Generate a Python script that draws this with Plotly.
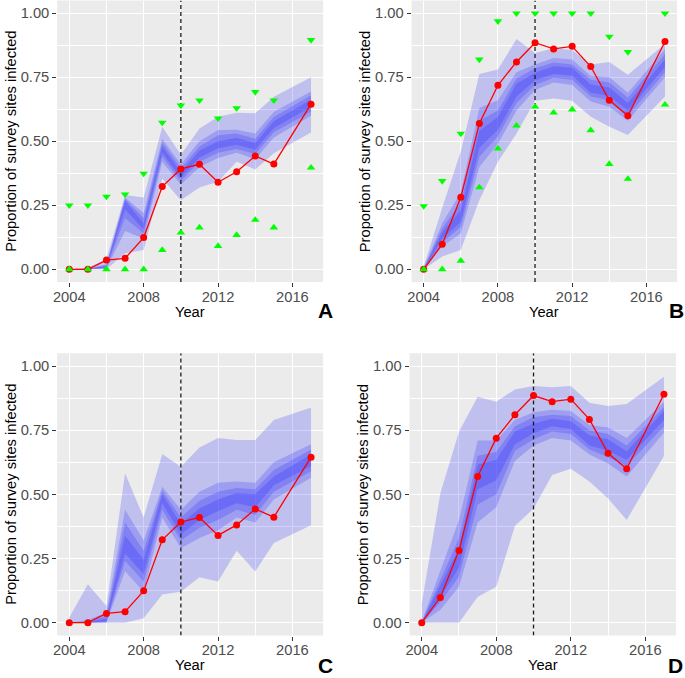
import plotly.graph_objects as go

# ---------------- data ----------------
years = [2004, 2005, 2006, 2007, 2008, 2009, 2010, 2011, 2012, 2013, 2014, 2015, 2017]
x_tick_years = [2004, 2008, 2012, 2016]
x_minor_years = [2006, 2010, 2014]
y_ticks = [0, 0.25, 0.5, 0.75, 1.0]
y_tick_labels = ["0.00", "0.25", "0.50", "0.75", "1.00"]
y_minor = [0.125, 0.375, 0.625, 0.875]
vline_year = 2010

obs_ac = [0, 0, 0.036, 0.043, 0.124, 0.323, 0.392, 0.41, 0.34, 0.381, 0.443, 0.411, 0.645]
obs_bd = [0, 0.098, 0.281, 0.57, 0.719, 0.81, 0.885, 0.861, 0.871, 0.792, 0.66, 0.60, 0.89]

upper_a = [0.25, 0.25, 0.284, 0.293, 0.374, 0.573, 0.64, 0.66, 0.59, 0.63, 0.693, 0.66, 0.896]
lower_a = [0, 0, 0, 0, 0, 0.075, 0.143, 0.163, 0.091, 0.134, 0.193, 0.163, 0.397]
upper_b = [0.247, 0.345, 0.53, 0.82, 0.969, 1, 1, 1, 1, 1, 0.909, 0.849, 1]
lower_b = [0, 0, 0.033, 0.32, 0.471, 0.561, 0.635, 0.612, 0.624, 0.543, 0.411, 0.353, 0.643]

# panel A bands (outer -> inner)
a1_lo = [0, 0, 0, 0.063, 0.075, 0.355, 0.27, 0.32, 0.342, 0.42, 0.39, 0.453, 0.534]
a1_hi = [0, 0.006, 0.04, 0.29, 0.28, 0.557, 0.447, 0.55, 0.596, 0.612, 0.61, 0.674, 0.75]
a2_lo = [0, 0, 0.002, 0.15, 0.12, 0.42, 0.33, 0.40, 0.435, 0.455, 0.43, 0.515, 0.60]
a2_hi = [0, 0.003, 0.02, 0.28, 0.22, 0.51, 0.41, 0.50, 0.544, 0.545, 0.53, 0.615, 0.695]
a3_lo = [0, 0, 0.005, 0.20, 0.14, 0.44, 0.345, 0.42, 0.455, 0.47, 0.45, 0.535, 0.615]
a3_hi = [0, 0.002, 0.016, 0.275, 0.20, 0.495, 0.395, 0.48, 0.524, 0.53, 0.51, 0.595, 0.68]
a4_lo = [0, 0, 0.007, 0.235, 0.155, 0.455, 0.358, 0.437, 0.473, 0.487, 0.467, 0.552, 0.635]
a4_hi = [0, 0.001, 0.013, 0.268, 0.18, 0.48, 0.38, 0.463, 0.50, 0.513, 0.493, 0.578, 0.662]

# panel B bands
b1_lo = [0, 0.05, 0.075, 0.27, 0.42, 0.53, 0.658, 0.667, 0.658, 0.596, 0.557, 0.525, 0.675]
b1_hi = [0.01, 0.24, 0.46, 0.763, 0.78, 0.9, 0.845, 0.863, 0.857, 0.80, 0.81, 0.76, 0.88]
b2_lo = [0, 0.09, 0.14, 0.40, 0.49, 0.62, 0.70, 0.73, 0.72, 0.655, 0.635, 0.58, 0.75]
b2_hi = [0.005, 0.18, 0.30, 0.63, 0.66, 0.77, 0.80, 0.825, 0.82, 0.755, 0.75, 0.69, 0.86]
b3_lo = [0, 0.105, 0.165, 0.44, 0.52, 0.65, 0.72, 0.748, 0.74, 0.675, 0.66, 0.60, 0.77]
b3_hi = [0.003, 0.16, 0.26, 0.58, 0.62, 0.745, 0.785, 0.808, 0.80, 0.74, 0.73, 0.67, 0.84]
b4_lo = [0, 0.12, 0.185, 0.475, 0.545, 0.675, 0.738, 0.763, 0.757, 0.69, 0.677, 0.62, 0.79]
b4_hi = [0.001, 0.145, 0.23, 0.54, 0.595, 0.725, 0.768, 0.793, 0.787, 0.722, 0.71, 0.65, 0.82]

# panel C bands
c1_lo = [0, 0, 0, 0, 0.017, 0.11, 0.12, 0.177, 0.16, 0.28, 0.199, 0.31, 0.38]
c1_hi = [0.02, 0.15, 0.065, 0.582, 0.41, 0.657, 0.608, 0.683, 0.72, 0.712, 0.712, 0.79, 0.838]
c2_lo = [0, 0, 0, 0.2, 0.12, 0.41, 0.29, 0.33, 0.36, 0.41, 0.39, 0.48, 0.565]
c2_hi = [0, 0.01, 0.04, 0.44, 0.32, 0.53, 0.44, 0.51, 0.545, 0.55, 0.545, 0.625, 0.695]
c3_lo = [0, 0, 0.003, 0.24, 0.16, 0.44, 0.32, 0.37, 0.40, 0.44, 0.42, 0.51, 0.59]
c3_hi = [0, 0.005, 0.025, 0.39, 0.28, 0.515, 0.41, 0.475, 0.51, 0.525, 0.52, 0.595, 0.675]
c4_lo = [0, 0, 0.006, 0.27, 0.19, 0.465, 0.345, 0.40, 0.435, 0.465, 0.45, 0.535, 0.61]
c4_hi = [0, 0.002, 0.015, 0.34, 0.245, 0.50, 0.385, 0.445, 0.48, 0.505, 0.50, 0.57, 0.655]

# panel D bands
d1_lo = [0, 0, 0, 0.1, 0.14, 0.377, 0.445, 0.575, 0.6, 0.55, 0.484, 0.4, 0.649]
d1_hi = [0.075, 0.504, 0.744, 0.88, 0.861, 0.909, 0.922, 0.917, 0.922, 0.857, 0.844, 0.852, 0.958]
d2_lo = [0, 0.05, 0.14, 0.39, 0.45, 0.63, 0.69, 0.72, 0.71, 0.655, 0.62, 0.57, 0.74]
d2_hi = [0.005, 0.2, 0.4, 0.71, 0.71, 0.79, 0.82, 0.83, 0.825, 0.77, 0.76, 0.72, 0.86]
d3_lo = [0, 0.08, 0.18, 0.46, 0.5, 0.67, 0.715, 0.745, 0.735, 0.675, 0.645, 0.61, 0.765]
d3_hi = [0.003, 0.17, 0.33, 0.65, 0.665, 0.765, 0.80, 0.81, 0.805, 0.75, 0.735, 0.69, 0.84]
d4_lo = [0, 0.1, 0.215, 0.52, 0.555, 0.695, 0.738, 0.765, 0.755, 0.69, 0.67, 0.635, 0.79]
d4_hi = [0.001, 0.145, 0.29, 0.615, 0.635, 0.745, 0.775, 0.795, 0.785, 0.73, 0.715, 0.668, 0.825]

panel_letters = ["A", "B", "C", "D"]
y_title = "Proportion of survey sites infected"
x_title = "Year"

# ---------------- layout geometry (pixels) ----------------
W, H = 685, 678
boxes = {  # left, right, top, bottom in pixels
    "A": (53.5, 321.0, 0.5, 282.1),
    "B": (410.0, 677.0, 0.5, 282.1),
    "C": (53.5, 321.0, 353.2, 635.5),
    "D": (408.0, 676.0, 353.2, 635.5),
}

panels = {
    "A": dict(bands=[(a1_lo, a1_hi), (a2_lo, a2_hi), (a3_lo, a3_hi), (a4_lo, a4_hi)],
              obs=obs_ac, up=upper_a, low=lower_a),
    "B": dict(bands=[(b1_lo, b1_hi), (b2_lo, b2_hi), (b3_lo, b3_hi), (b4_lo, b4_hi)],
              obs=obs_bd, up=upper_b, low=lower_b),
    "C": dict(bands=[(c1_lo, c1_hi), (c2_lo, c2_hi), (c3_lo, c3_hi), (c4_lo, c4_hi)],
              obs=obs_ac, up=None, low=None),
    "D": dict(bands=[(d1_lo, d1_hi), (d2_lo, d2_hi), (d3_lo, d3_hi), (d4_lo, d4_hi)],
              obs=obs_bd, up=None, low=None),
}

FONT = "Liberation Sans, Arial, sans-serif"
band_fill = "rgba(10,10,255,0.19)"

fig = go.Figure()
layout = dict(
    width=W, height=H, margin=dict(l=0, r=0, t=0, b=0),
    paper_bgcolor="white", plot_bgcolor="#EBEBEB", showlegend=False,
    font=dict(family=FONT, size=14.7, color="#4D4D4D"),
)
annotations = []

def px(x):
    return x / W

def py(y):
    return 1 - y / H

for i, key in enumerate(panel_letters):
    n = "" if i == 0 else str(i + 1)
    xa, ya = "x" + n, "y" + n
    l, r, t, b = boxes[key]
    p = panels[key]

    for lo, hi in p["bands"]:
        fig.add_trace(go.Scatter(
            x=years + years[::-1], y=hi + lo[::-1], xaxis=xa, yaxis=ya,
            fill="toself", fillcolor=band_fill, line=dict(width=0),
            mode="lines", hoverinfo="skip"))

    fig.add_trace(go.Scatter(
        x=[vline_year, vline_year], y=[-0.05, 1.05], xaxis=xa, yaxis=ya,
        mode="lines", line=dict(color="#1a1a1a", width=1.3, dash="4px,3px"),
        hoverinfo="skip"))

    fig.add_trace(go.Scatter(
        x=years, y=p["obs"], xaxis=xa, yaxis=ya, mode="lines+markers",
        line=dict(color="#FF0000", width=1.3),
        marker=dict(color="#FF0000", size=7)))

    if p["up"] is not None:
        fig.add_trace(go.Scatter(
            x=years, y=p["up"], xaxis=xa, yaxis=ya, mode="markers",
            marker=dict(symbol="triangle-down", color="#00FF00", size=7.5, line=dict(width=0)),
            cliponaxis=False))
        fig.add_trace(go.Scatter(
            x=years, y=p["low"], xaxis=xa, yaxis=ya, mode="markers",
            marker=dict(symbol="triangle-up", color="#00FF00", size=7.5, line=dict(width=0)),
            cliponaxis=False))

    layout["xaxis" + n] = dict(
        domain=[px(l), px(r)], range=[2003.35, 2017.65], anchor=ya,
        tickmode="array", tickvals=x_tick_years, ticktext=[str(v) for v in x_tick_years],
        ticks="outside", ticklen=4, tickwidth=1.1, tickcolor="#333333",
        ticklabelstandoff=-3,
        showgrid=True, gridcolor="white", gridwidth=1.2,
        minor=dict(tickmode="array", tickvals=x_minor_years, showgrid=True,
                   gridcolor="white", gridwidth=0.6, ticks=""),
        zeroline=False, showline=False,
        tickfont=dict(family=FONT, size=14.7, color="#4D4D4D"))
    layout["yaxis" + n] = dict(
        domain=[py(b), py(t)], range=[-0.05, 1.05], anchor=xa,
        tickmode="array", tickvals=y_ticks, ticktext=y_tick_labels,
        ticks="outside", ticklen=4, tickwidth=1.1, tickcolor="#333333",
        showgrid=True, gridcolor="white", gridwidth=1.2,
        minor=dict(tickmode="array", tickvals=y_minor, showgrid=True,
                   gridcolor="white", gridwidth=0.6, ticks=""),
        zeroline=False, showline=False,
        tickfont=dict(family=FONT, size=14.7, color="#4D4D4D"))

    cx = (l + r) / 2
    cy = (t + b) / 2
    ytitle_x = 7.5 if l < 200 else l - 47
    annotations.append(dict(
        text=y_title, x=px(ytitle_x), y=py(cy), xref="paper", yref="paper",
        textangle=-90, showarrow=False, xanchor="center", yanchor="middle",
        font=dict(family=FONT, size=14.7, color="black")))
    annotations.append(dict(
        text=x_title, x=px(cx), y=py(b + 29.5), xref="paper", yref="paper",
        showarrow=False, xanchor="center", yanchor="middle",
        font=dict(family=FONT, size=14.7, color="black")))
    if t < 100:
        letter_pos = dict(y=py(b + 28), yanchor="middle")
    else:
        letter_pos = dict(y=0, yanchor="bottom")
    annotations.append(dict(
        text="<b>" + key + "</b>", x=px(r + 2.5 if l < 200 else r - 0.5),
        xref="paper", yref="paper", showarrow=False, xanchor="center",
        borderpad=0, font=dict(family=FONT, size=21, color="black"), **letter_pos))

layout["annotations"] = annotations
fig.update_layout(**layout)
fig.write_html("out.html", config={"displayModeBar": False},
               post_script="document.body.style.margin='0';document.body.style.overflow='hidden';")
